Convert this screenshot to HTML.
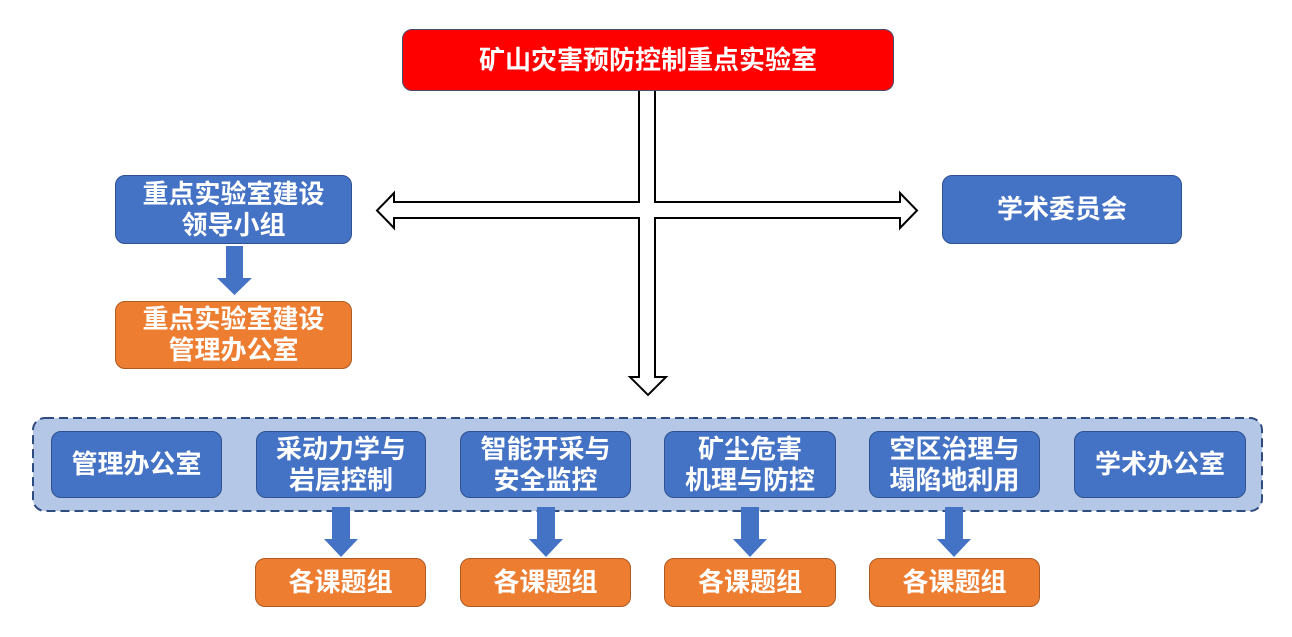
<!DOCTYPE html>
<html><head><meta charset="utf-8"><style>
html,body{margin:0;padding:0;background:#fff;}
body{width:1292px;height:637px;position:relative;overflow:hidden;font-family:"Liberation Sans","Noto Sans CJK SC","WenQuanYi Zen Hei",sans-serif;}
.b{position:absolute;box-sizing:border-box;display:flex;align-items:center;justify-content:center;text-align:center;color:#fff;font-weight:700;font-size:26px;line-height:31px;border-radius:10px;}
.blue{background:#4472C4;border:1.5px solid #2F528F;}
.org{background:#ED7D31;border:1.5px solid #AE5A21;}
.red{background:#FF0000;border:1.5px solid #4a4a6a;}
svg{position:absolute;left:0;top:0;}
</style></head><body>
<svg width="1292" height="637" viewBox="0 0 1292 637">
  <rect x="33" y="418" width="1229" height="93" rx="12" ry="12" fill="#B4C7E7" stroke="#2F4C7E" stroke-width="2" stroke-dasharray="9,5"/>
  <polygon points="639,85 639,202 394,202 394,193 377,210.5 394,228 394,218 639,218 639,377 630,377 648,395 666,377 655,377 655,218 900,218 900,228 917,210.5 900,193 900,202 655,202 655,85" fill="#fff" stroke="#000" stroke-width="2" stroke-linejoin="miter"/>
  <g fill="#4472C4">
    <polygon points="226,246 243,246 243,278 252,278 234.5,295 217,278 226,278"/>
    <polygon points="332,507 350,507 350,539 358,539 341,557 324,539 332,539"/>
    <polygon points="537,507 555,507 555,539 563,539 546,557 529,539 537,539"/>
    <polygon points="741,507 759,507 759,539 767,539 750,557 733,539 741,539"/>
    <polygon points="945,507 963,507 963,539 971,539 954,557 937,539 945,539"/>
  </g>
</svg>
<div class="b red" style="left:402px;top:29px;width:492px;height:62px;">矿山灾害预防控制重点实验室</div>
<div class="b blue" style="left:115px;top:175px;width:237px;height:69px;">重点实验室建设<br>领导小组</div>
<div class="b org" style="left:115px;top:301px;width:237px;height:68px;">重点实验室建设<br>管理办公室</div>
<div class="b blue" style="left:942px;top:175px;width:240px;height:69px;">学术委员会</div>

<div class="b blue" style="left:51px;top:431px;width:171px;height:67px;">管理办公室</div>
<div class="b blue" style="left:256px;top:431px;width:170px;height:67px;">采动力学与<br>岩层控制</div>
<div class="b blue" style="left:460px;top:431px;width:171px;height:67px;">智能开采与<br>安全监控</div>
<div class="b blue" style="left:664px;top:431px;width:172px;height:67px;">矿尘危害<br>机理与防控</div>
<div class="b blue" style="left:869px;top:431px;width:171px;height:67px;">空区治理与<br>塌陷地利用</div>
<div class="b blue" style="left:1074px;top:431px;width:172px;height:67px;">学术办公室</div>

<div class="b org" style="left:255px;top:558px;width:171px;height:49px;">各课题组</div>
<div class="b org" style="left:460px;top:558px;width:171px;height:49px;">各课题组</div>
<div class="b org" style="left:664px;top:558px;width:172px;height:49px;">各课题组</div>
<div class="b org" style="left:869px;top:558px;width:171px;height:49px;">各课题组</div>
</body></html>
